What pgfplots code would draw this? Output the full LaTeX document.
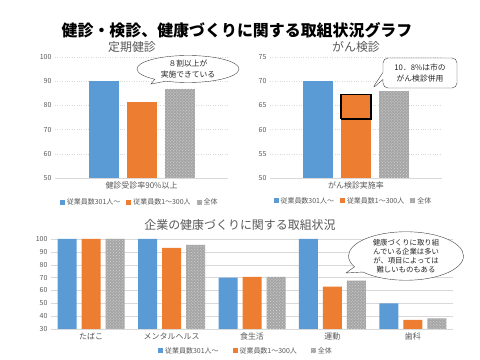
\documentclass[border=0pt]{standalone}
\usepackage{fontspec}
\setmainfont{Noto Sans CJK JP}
\usepackage{pgfplots}
\pgfplotsset{compat=1.18}
\usetikzlibrary{patterns,shapes.callouts,shapes.geometric}
\definecolor{cblue}{HTML}{5B9BD5}
\definecolor{corange}{HTML}{ED7D31}
\definecolor{cgrey}{HTML}{A5A5A5}
\definecolor{ctext}{HTML}{595959}
\definecolor{cgrid}{HTML}{D9D9D9}
\pgfplotsset{
  sq legend/.style={legend image code/.code={\fill[##1] (0bp,-2.5bp) rectangle (5bp,2.5bp);}},
  mybase/.style={
    scale only axis,
    axis line style={draw=none},
    tick style={draw=none},
    ymajorgrids,
    clip=false,
    /pgf/number format/assume math mode=true,
    yticklabel style={font=\fontsize{7}{8}\selectfont, text=ctext},
    xticklabel style={font=\fontsize{8}{9}\selectfont, text=ctext},
    legend columns=-1,
    legend style={draw=none, fill=none, font=\fontsize{7}{8}\selectfont, text=ctext, anchor=center,
      /tikz/every even column/.append style={column sep=4bp}},
  },
  sblue/.style={ybar, fill=cblue, draw=none, sq legend},
  sorange/.style={ybar, fill=corange, draw=none, sq legend},
  sgrey/.style={ybar, fill=cgrey, draw=none, postaction={pattern=crosshatch dots, pattern color=white!55!cgrey}, sq legend},
}
\begin{document}
\begin{tikzpicture}
\path[use as bounding box, fill=white] (0,0) rectangle (480bp,360bp);
\node[font=\fontsize{16}{18}\selectfont\bfseries] at (237bp,330bp) {健診・検診、健康づくりに関する取組状況グラフ};
\node[font=\fontsize{12}{14}\selectfont, text=ctext] at (132bp,313bp) {定期健診};
\node[font=\fontsize{12}{14}\selectfont, text=ctext] at (356bp,313bp) {がん検診};
\node[font=\fontsize{12}{14}\selectfont, text=ctext] at (240bp,135bp) {企業の健康づくりに関する取組状況};

% top-left
\begin{axis}[mybase, at={(55bp,182bp)}, anchor=south west, width=173bp, height=121bp,
  xmin=-1, xmax=1, ymin=50, ymax=100, ytick={50,60,...,100},
  xtick={0}, xticklabels={健診受診率90\%以上},
  grid style={cgrid, dotted},
  legend style={at={(0.49,-0.204)}}]
\addplot[sblue, bar width=30bp, bar shift=-38bp] coordinates {(0,90)};
\addplot[sorange, bar width=30bp, bar shift=0bp] coordinates {(0,81.6)};
\addplot[sgrey, bar width=30bp, bar shift=38bp] coordinates {(0,86.8)};
\legend{従業員数301人～,従業員数1～300人,全体}
\draw[cgrid] (rel axis cs:0,0) -- (rel axis cs:1,0);
\end{axis}

% top-right
\begin{axis}[mybase, at={(270bp,182bp)}, anchor=south west, width=172bp, height=121bp,
  xmin=-1, xmax=1, ymin=50, ymax=75, ytick={50,55,...,75},
  xtick={0}, xticklabels={がん検診実施率},
  grid style={cgrid, dotted},
  legend style={at={(0.485,-0.19)}}]
\addplot[sblue, bar width=30bp, bar shift=-38bp] coordinates {(0,70)};
\addplot[sorange, bar width=30bp, bar shift=0bp] coordinates {(0,67.3)};
\addplot[sgrey, bar width=30bp, bar shift=38bp] coordinates {(0,67.9)};
\addplot[black, line width=1.3bp, mark=none, forget plot] coordinates {(-0.1744,62.2) (-0.1744,67.3) (0.1744,67.3) (0.1744,62.2) (-0.1744,62.2)};
\legend{従業員数301人～,従業員数1～300人,全体}
\draw[cgrid] (rel axis cs:0,0) -- (rel axis cs:1,0);
\end{axis}

% bottom
\begin{axis}[mybase, at={(51bp,31bp)}, anchor=south west, width=402bp, height=90bp,
  xmin=-0.5, xmax=4.5, ymin=30, ymax=100, ytick={30,40,...,100},
  xtick={0,1,2,3,4}, xticklabels={たばこ,メンタルヘルス,食生活,運動,歯科},
  grid style={cgrid},
  legend style={at={(0.485,-0.244)}, /tikz/every even column/.append style={column sep=12bp}}]
\addplot[sblue, bar width=19bp, bar shift=-24bp] coordinates {(0,100) (1,100) (2,70) (3,100) (4,50)};
\addplot[sorange, bar width=19bp, bar shift=0bp] coordinates {(0,100) (1,93) (2,70.5) (3,63) (4,37)};
\addplot[sgrey, bar width=19bp, bar shift=24bp] coordinates {(0,100) (1,95.5) (2,70.5) (3,67.6) (4,38.3)};
\legend{従業員数301人～,従業員数1～300人,全体}
\draw[cgrid] (rel axis cs:0,0) -- (rel axis cs:1,0);
\end{axis}

% callouts
\node[ellipse callout, draw=black!75, fill=white, inner sep=0pt, minimum width=102bp, minimum height=27bp,
  callout absolute pointer={(151bp,276bp)}, align=center, text=black!85,
  font=\fontsize{7.8}{10.8}\selectfont] at (188bp,291bp) {８割以上が\\実施できている};
\node[rectangle callout, draw=black!75, fill=white, rounded corners=5bp, inner sep=0pt, minimum width=74bp, minimum height=30bp,
  callout absolute pointer={(372bp,271bp)}, align=center, text=black!85,
  font=\fontsize{7.8}{10.5}\selectfont] at (420bp,287bp) {10．8\%は市の\\がん検診併用};
\node[ellipse callout, draw=black!75, fill=white, inner sep=0pt, minimum width=115bp, minimum height=42bp,
  callout absolute pointer={(346bp,87bp)}, align=center, text=black!85,
  font=\fontsize{7.4}{9.2}\selectfont] at (406bp,104bp) {健康づくりに取り組\\んでいる企業は多い\\が、項目によっては\\難しいものもある};
\end{tikzpicture}
\end{document}
